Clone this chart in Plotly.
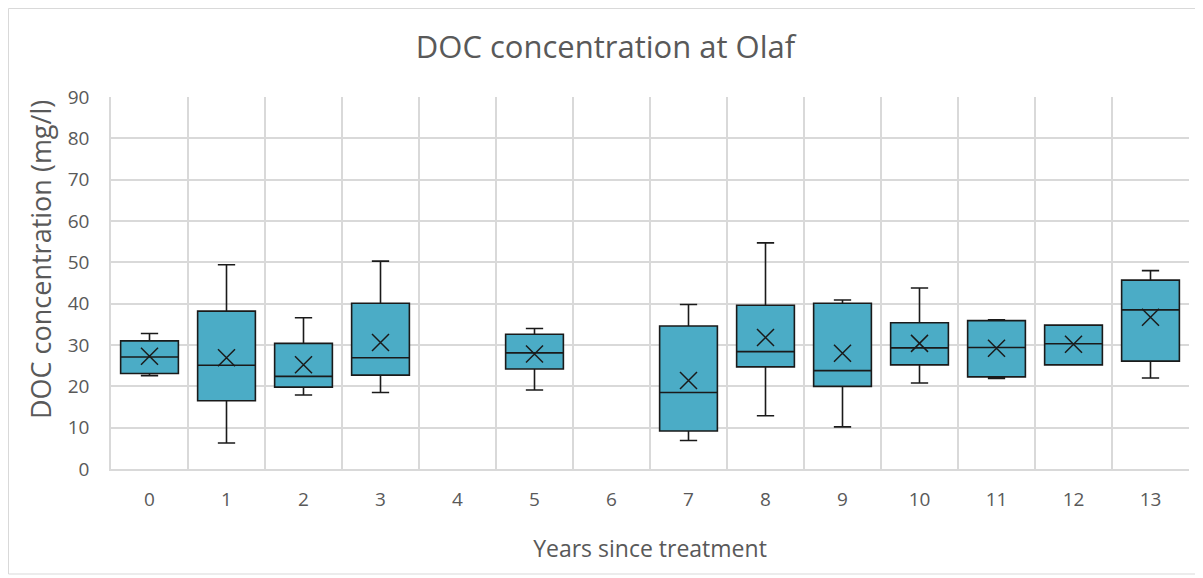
import plotly.graph_objects as go

years = [0, 1, 2, 3, 5, 7, 8, 9, 10, 11, 12, 13]
lower = [22.6, 6.3, 17.9, 18.5, 19.1, 6.9, 12.9, 10.2, 20.8, 21.9, 25.2, 22.0]
q1 = [23.1, 16.5, 19.8, 22.7, 24.2, 9.2, 24.7, 20.0, 25.2, 22.3, 25.2, 26.1]
median = [27.1, 25.1, 22.4, 26.9, 28.1, 18.5, 28.4, 23.8, 29.3, 29.4, 30.3, 38.5]
q3 = [31.0, 38.2, 30.4, 40.1, 32.6, 34.6, 39.6, 40.1, 35.4, 35.9, 34.8, 45.7]
upper = [32.8, 49.4, 36.6, 50.3, 34.0, 39.8, 54.7, 40.9, 43.8, 36.1, 34.8, 48.0]
mean = [27.3, 26.9, 25.2, 30.6, 27.8, 21.4, 31.8, 28.0, 30.4, 29.2, 30.2, 36.7]
tick_labels = [str(i) for i in range(14)]

FONT = "Open Sans"
GRAY = "#595959"
GRID = "#d9d9d9"
INK = "#1a1a1a"

fig = go.Figure()
fig.add_trace(go.Box(
    x=years, q1=q1, median=median, q3=q3,
    lowerfence=lower, upperfence=upper,
    width=0.75, whiskerwidth=0.3,
    fillcolor="#4BACC6", line=dict(color=INK, width=1.6),
    boxpoints=False, hoverinfo="skip", showlegend=False,
))
fig.add_trace(go.Scatter(
    x=years, y=mean, mode="markers",
    marker=dict(symbol="x-thin-open", size=17, color=INK, line=dict(color=INK, width=1.5)),
    showlegend=False, hoverinfo="skip",
))

# page body has an 8px margin: figure is placed at (8, 8)
OFF = 8
W, H = 1203 - OFF, 578 - OFF
L, T = 111 - OFF, 97 - OFF
R = W - (1189 - OFF)
B = H - (469 - OFF)
pw, ph = W - L - R, H - T - B

def px_x(x):  # window x -> paper x
    return (x - 111) / pw

def px_y(y):  # window y -> paper y
    return 1 - (y - 97) / ph

fig.update_layout(
    width=W, height=H,
    margin=dict(l=L, r=R, t=T, b=B, autoexpand=False),
    paper_bgcolor="white", plot_bgcolor="white",
    font=dict(family=FONT, color=GRAY),
    title=dict(text="DOC concentration at Olaf", x=0.5, xanchor="center",
               y=1 - (47 - OFF) / H, yanchor="middle",
               font=dict(family=FONT, size=31, color=GRAY)),
    xaxis=dict(
        range=[-0.5, 13.5], tickvals=list(range(14)), ticktext=tick_labels,
        showgrid=False, zeroline=False,
        ticks="outside", ticklen=12, tickcolor="rgba(0,0,0,0)",
        tickfont=dict(size=19, color=GRAY),
        minor=dict(tickvals=[i - 0.5 for i in range(15)], showgrid=True,
                   gridcolor=GRID, gridwidth=1.5, ticks=""),
        showline=True, linecolor=GRID, linewidth=1.5,
        title=dict(text="Years since treatment", font=dict(size=23, color=GRAY), standoff=30),
    ),
    yaxis=dict(
        range=[0, 90], dtick=10, showgrid=True, gridcolor=GRID, gridwidth=1.5,
        zeroline=False, showline=True, linecolor=GRID, linewidth=1.5,
        ticks="outside", ticklen=16, tickcolor="rgba(0,0,0,0)",
        tickfont=dict(size=19, color=GRAY),
    ),
    annotations=[dict(text="DOC concentration (mg/l)", textangle=-90,
                      xref="paper", yref="paper", x=px_x(40), y=px_y(260),
                      xanchor="center", yanchor="middle", showarrow=False,
                      font=dict(family=FONT, size=27, color=GRAY))],
    shapes=[dict(type="rect", xref="paper", yref="paper",
                 x0=px_x(8.5), x1=px_x(1198), y0=px_y(574), y1=px_y(8.5),
                 line=dict(color=GRID, width=1), fillcolor="rgba(0,0,0,0)", layer="below")],
)

fig.write_html("out.html")
